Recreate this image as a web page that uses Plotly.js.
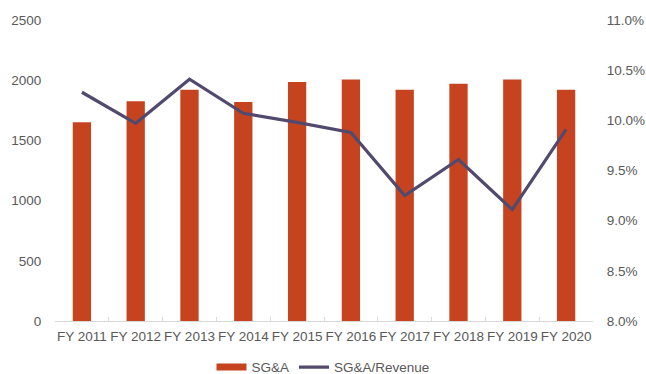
<!DOCTYPE html>
<html>
<head>
<meta charset="utf-8">
<script src="https://cdn.plot.ly/plotly-3.0.1.min.js"></script>
<style>html,body{margin:0;padding:0;background:#fff;}#chart{width:646px;height:374px;}</style>
</head>
<body>
<div id="chart"></div>
<script>
const categories = ["FY 2011","FY 2012","FY 2013","FY 2014","FY 2015","FY 2016","FY 2017","FY 2018","FY 2019","FY 2020"];
const sgaValues = [1650, 1825, 1920, 1818, 1985, 2005, 1920, 1970, 2005, 1920];
const sgaRevenueRatio = [0.1028, 0.0997, 0.1041, 0.1007, 0.0998, 0.0988, 0.0925, 0.0961, 0.0911, 0.0991];
const leftTicks = [0, 500, 1000, 1500, 2000, 2500];
const rightTicks = [0.08, 0.085, 0.09, 0.095, 0.10, 0.105, 0.11];

const barColor = "#c5441f";
const lineColor = "#524a6e";
const textColor = "#595959";
const font = {family: "Liberation Sans, Arial, sans-serif", size: 13.5, color: textColor};

const traces = [
  {
    type: "bar", x: categories, y: sgaValues, name: "SG&A",
    marker: {color: barColor}, showlegend: false, yaxis: "y"
  },
  {
    type: "scatter", mode: "lines", x: categories, y: sgaRevenueRatio, name: "SG&A/Revenue",
    line: {color: lineColor, width: 3.2}, yaxis: "y2", showlegend: false
  },
  {
    type: "scatter", mode: "lines", x: [null], y: [null], name: "SG&A",
    line: {color: barColor, width: 7}, yaxis: "y", hoverinfo: "skip"
  },
  {
    type: "scatter", mode: "lines", x: [null], y: [null], name: "SG&A/Revenue",
    line: {color: lineColor, width: 3.2}, yaxis: "y", hoverinfo: "skip"
  }
];

const layout = {
  width: 646, height: 374,
  margin: {l: 55, r: 53, t: 20, b: 53, pad: 0},
  paper_bgcolor: "#ffffff", plot_bgcolor: "#ffffff",
  font: font,
  bargap: 0.66,
  showlegend: true,
  legend: {orientation: "h", x: 0.5, xanchor: "center", xref: "container",
           y: 0.018, yanchor: "middle", yref: "container",
           font: font, itemwidth: 30, tracegroupgap: 0},
  xaxis: {
    type: "category", categoryorder: "array", categoryarray: categories,
    showline: true, linecolor: "#d9d9d9", linewidth: 1,
    ticks: "inside", tickson: "boundaries", ticklen: 4, tickcolor: "#d9d9d9",
    ticklabelstandoff: 3,
    showgrid: false, zeroline: false, tickfont: font, tickangle: 0, automargin: false
  },
  yaxis: {
    range: [0, 2500], tickvals: leftTicks, showgrid: false, zeroline: false,
    showline: false, ticks: "outside", ticklen: 10, tickcolor: "rgba(0,0,0,0)",
    tickfont: font, automargin: false
  },
  yaxis2: {
    overlaying: "y", side: "right", range: [0.08, 0.11], tickvals: rightTicks,
    tickformat: ".1%", showgrid: false, zeroline: false, showline: false,
    ticks: "outside", ticklen: 10, tickcolor: "rgba(0,0,0,0)", tickfont: font, automargin: false
  }
};

Plotly.newPlot("chart", traces, layout, {displayModeBar: false, staticPlot: true});
</script>
</body>
</html>
